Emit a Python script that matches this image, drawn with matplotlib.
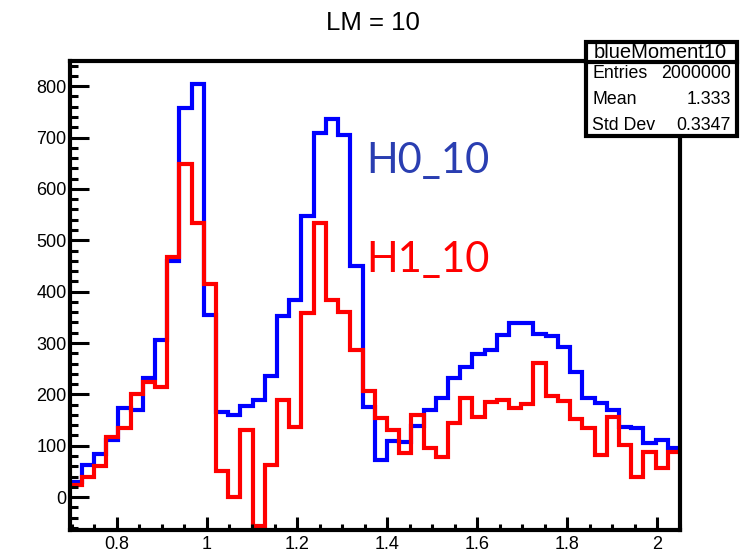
import numpy as np
import matplotlib.pyplot as plt
from matplotlib.patches import Rectangle
from matplotlib.lines import Line2D
from matplotlib.ticker import MultipleLocator

# histogram binning: 50 bins over the moment range
edges = np.linspace(0.695, 2.05, 51)

# bin contents
h0_10 = [30, 63, 84, 111, 173, 170, 231, 306, 460, 758,
         805, 355, 165, 160, 178, 189, 235, 353, 384, 547,
         708, 737, 705, 450, 176, 73, 110, 108, 139, 170,
         192, 231, 254, 278, 287, 316, 338, 338, 318, 314,
         293, 244, 193, 184, 170, 137, 135, 106, 111, 95]
h1_10 = [24, 40, 60, 118, 134, 200, 225, 215, 468, 648,
         533, 414, 50, 1, 131, -57, 63, 189, 137, 358,
         533, 383, 361, 287, 206, 154, 130, 86, 160, 95,
         79, 145, 192, 156, 186, 189, 173, 181, 261, 196,
         188, 152, 134, 82, 156, 102, 40, 87, 56, 87]

stat_names = ["Entries", "Mean", "Std Dev"]
stat_values = ["2000000", "1.333", "0.3347"]

W, H = 743, 553
fig = plt.figure(figsize=(W / 100, H / 100), dpi=100)
plt.rcParams['font.family'] = ['Liberation Sans', 'DejaVu Sans']


def fx(px):
    return px / W


def fy(py):
    return 1 - py / H


ax = fig.add_axes([fx(69.5), fy(530), fx(680) - fx(69.5), fy(61) - fy(530)])
ax.stairs(h0_10, edges, color='#0000ff', linewidth=3, baseline=None)
ax.stairs(h1_10, edges, color='#ff0000', linewidth=3, baseline=None)

ax.set_xlim(0.695, 2.05)
ax.set_ylim(-64, 849)
ax.xaxis.set_major_locator(MultipleLocator(0.2))
ax.xaxis.set_minor_locator(MultipleLocator(0.05))
ax.yaxis.set_major_locator(MultipleLocator(100))
ax.yaxis.set_minor_locator(MultipleLocator(20))
ax.set_xticks([0.8, 1.0, 1.2, 1.4, 1.6, 1.8, 2.0])
ax.set_xticklabels(["0.8", "1", "1.2", "1.4", "1.6", "1.8", "2"])
ax.set_yticks(range(0, 900, 100))

for s in ax.spines.values():
    s.set_linewidth(3)
ax.tick_params(axis='both', which='both', direction='in', width=2.2,
               top=False, right=False, labelsize=13)
ax.tick_params(axis='y', which='major', length=13.5, pad=2)
ax.tick_params(axis='y', which='minor', length=5.8)
ax.tick_params(axis='x', which='major', length=9.4, pad=4)
ax.tick_params(axis='x', which='minor', length=4.3)

fig.text(fx(373), fy(23), "LM = 10", ha='center', va='center', fontsize=18.5)

# labels for the two hypotheses
fig.text(fx(366), fy(173), "H0_10", color='#2a3eb1', fontsize=30,
         family=['Lato', 'DejaVu Sans'], ha='left', va='baseline')
fig.text(fx(366), fy(272), "H1_10", color='#ff0000', fontsize=30,
         family=['Lato', 'DejaVu Sans'], ha='left', va='baseline')

# statistics box
box = Rectangle((fx(586), fy(136)), fx(737) - fx(586), fy(42) - fy(136),
                transform=fig.transFigure, facecolor='white',
                edgecolor='black', linewidth=3, zorder=5)
fig.add_artist(box)
fig.add_artist(Line2D([fx(586), fx(737)], [fy(62), fy(62)],
                      transform=fig.transFigure, color='black',
                      linewidth=3, zorder=6))
fig.text(fx(660), fy(52), "blueMoment10", ha='center', va='center',
         fontsize=14.5, zorder=7)
for i, (name, val) in enumerate(zip(stat_names, stat_values)):
    y = 73 + 26 * i
    fig.text(fx(592), fy(y), name, ha='left', va='center', fontsize=12.8,
             zorder=7)
    fig.text(fx(731), fy(y), val, ha='right', va='center', fontsize=12.8,
             zorder=7)

fig.savefig('out.png', dpi=100)
